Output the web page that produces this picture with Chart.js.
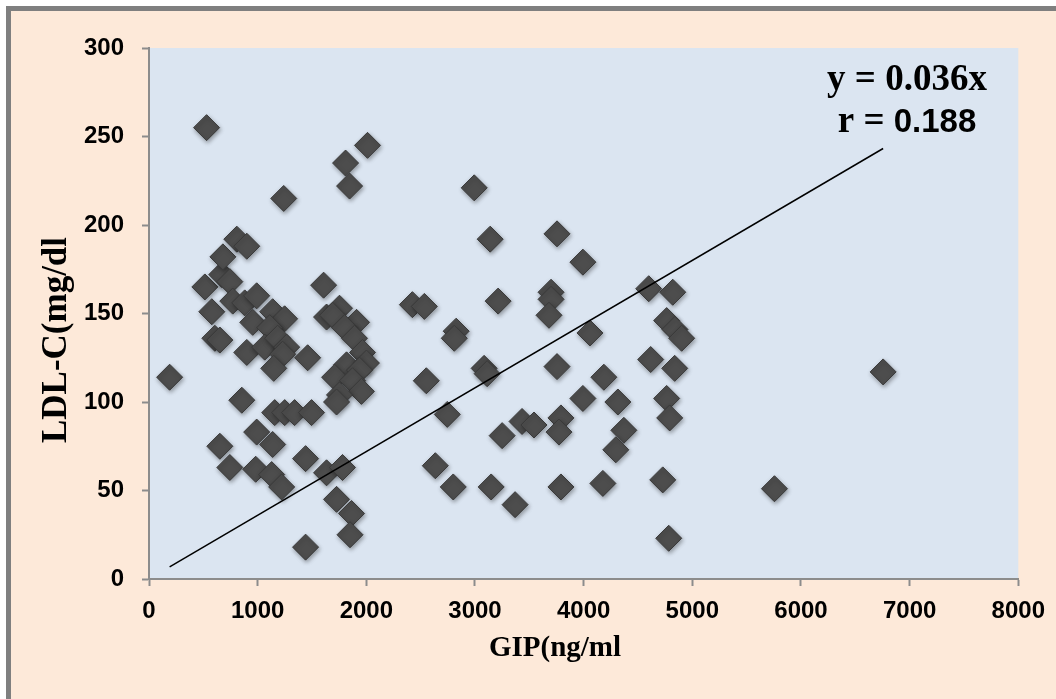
<!DOCTYPE html>
<html>
<head>
<meta charset="utf-8">
<script src="https://cdn.jsdelivr.net/npm/chart.js@4/dist/chart.umd.min.js"></script>
<style>
  html, body { margin: 0; padding: 0; background: #ffffff; }
  #frame {
    position: absolute; left: 6px; top: 6px; right: 0; bottom: 0;
    border-left: 5px solid #7f7f7f; border-top: 5px solid #7f7f7f;
    background: #fde9d9;
  }
  #wrap { position: absolute; left: 0; top: 0; width: 1056px; height: 699px; }
</style>
</head>
<body>
<div id="frame"></div>
<div id="wrap"><canvas id="ldlChart" width="1056" height="699"></canvas></div>
<script>
// GIP (ng/ml) on x, LDL-C (mg/dl) on y
const gipValues = [
  190, 530, 514, 578, 606, 652, 670, 680, 744, 808, 900, 771, 881, 991, 955, 900, 854, 991, 652, 744, 982,
  1138, 1248, 1111, 1065, 1184, 1267, 1230, 1148, 1460, 1240,
  1157, 1249, 1340, 1496, 1138, 1129, 1221, 1441, 1441,
  1607, 1634, 1753, 1690, 1910, 1800, 1891, 1965, 1818, 2001, 1937, 1708, 1873, 1955, 1753, 1726,
  1634, 1781, 1726, 1864, 1850,
  1809, 1846, 2011,
  2424, 2534, 2552, 2993, 3140, 3213, 2827, 2809, 2745, 2635, 2800,
  3084, 3112, 3149, 3369, 3250, 3433, 3543,
  3755, 3993, 3700, 3700, 3681, 3755, 3791, 3773, 3791, 4058, 3993, 4186, 4177, 4315, 4370, 4296,
  4599, 4820, 4764, 4840, 4902, 4617, 4838, 4764, 4792, 4728, 4783,
  5756, 6756
];
const ldlValues = [
  114, 255, 165, 151, 136, 135, 172, 182, 168, 192, 188, 157, 156, 160, 145, 128, 101, 83, 75, 63, 62,
  151, 147, 142, 131, 136, 131, 127, 119, 125, 215,
  94, 94, 94, 94, 76, 59, 52, 68, 18,
  166, 148, 153, 149, 145, 142, 136, 128, 121, 122, 118, 114, 112, 106, 104, 100,
  60, 63, 45, 37, 25,
  235, 222, 245,
  155, 154, 112, 221, 192, 157, 140, 136, 93, 64, 52,
  119, 116, 52, 42, 81, 89, 87,
  195, 179, 162, 158, 149, 120, 91, 83, 52, 139, 102, 114, 54, 100, 84, 73,
  164, 162, 146, 141, 136, 124, 119, 102, 91, 56, 23,
  51, 117
];
const xTicks = [0, 1000, 2000, 3000, 4000, 5000, 6000, 7000, 8000];
const yTicks = [0, 50, 100, 150, 200, 250, 300];
const slope = 0.036;
const corr = 0.188;

const points = gipValues.map((g, i) => ({ x: g, y: ldlValues[i] }));
const xMin = Math.min(...gipValues);
const xMax = Math.max(...gipValues);
const trend = [{ x: xMin, y: slope * xMin }, { x: xMax, y: slope * xMax }];

const axisGray = '#8c8c8c';
const tickFont = { family: 'Liberation Sans', size: 24, weight: 'bold' };

// plot area fill + titles + equation text
const decor = {
  id: 'decor',
  beforeDraw(chart) {
    const { ctx, chartArea: a } = chart;
    ctx.save();
    ctx.fillStyle = '#dbe5f1';
    ctx.fillRect(a.left, a.top, a.right - a.left, a.bottom - a.top);
    ctx.restore();
  },
  afterDraw(chart) {
    const { ctx } = chart;
    ctx.save();
    ctx.fillStyle = '#000';
    ctx.textAlign = 'center';
    ctx.textBaseline = 'alphabetic';
    ctx.font = 'bold 29px "Liberation Serif"';
    ctx.fillText('GIP(ng/ml', 555, 656);
    ctx.translate(66, 340);
    ctx.rotate(-Math.PI / 2);
    ctx.font = 'bold 35px "Liberation Serif"';
    ctx.fillText('LDL-C(mg/dl', 0, 0);
    ctx.restore();

    ctx.save();
    ctx.fillStyle = '#000';
    ctx.textBaseline = 'alphabetic';
    ctx.textAlign = 'center';
    ctx.font = 'bold 37px "Liberation Serif"';
    ctx.fillText('y = ' + slope + 'x', 907, 90);
    ctx.textAlign = 'left';
    const a = 'r = ';
    const serif = 'bold 37px "Liberation Serif"';
    const sans = 'bold 33px "Liberation Sans"';
    ctx.font = serif;
    const wa = ctx.measureText(a).width;
    ctx.font = sans;
    const wb = ctx.measureText(String(corr)).width;
    const x0 = 907 - (wa + wb) / 2;
    ctx.font = serif;
    ctx.fillText(a, x0, 132);
    ctx.font = sans;
    ctx.fillText(String(corr), x0 + wa, 132);
    ctx.restore();
  }
};

const shadow = {
  id: 'shadow',
  beforeDatasetDraw(chart, args) {
    if (args.index === 1) {
      const ctx = chart.ctx;
      ctx.save();
      ctx.shadowColor = 'rgba(0,0,0,0.35)';
      ctx.shadowBlur = 4;
      ctx.shadowOffsetX = 1;
      ctx.shadowOffsetY = 2;
    }
  },
  afterDatasetDraw(chart, args) {
    if (args.index === 1) chart.ctx.restore();
  }
};

new Chart(document.getElementById('ldlChart'), {
  type: 'scatter',
  data: {
    datasets: [
      {
        type: 'line',
        data: trend,
        borderColor: '#000000',
        borderWidth: 1.5,
        pointRadius: 0,
        fill: false,
        order: 0
      },
      {
        data: points,
        pointStyle: 'rectRot',
        pointRadius: 13,
        backgroundColor: '#4d4d4d',
        borderColor: '#3a3a3a',
        borderWidth: 1,
        order: 1
      }
    ]
  },
  options: {
    responsive: false,
    animation: false,
    events: [],
    layout: { padding: { left: 0, top: 48, right: 36, bottom: 0 } },
    plugins: { legend: { display: false }, tooltip: { enabled: false } },
    scales: {
      x: {
        type: 'linear',
        min: 0, max: 8000,
        afterBuildTicks(scale) { scale.ticks = xTicks.map(v => ({ value: v })); },
        afterFit(scale) { scale.height = 120; },
        border: { color: axisGray, width: 2 },
        grid: { drawOnChartArea: false, drawTicks: true, tickLength: 7, tickColor: axisGray, tickWidth: 2 },
        ticks: { color: '#000', font: tickFont, padding: 11, maxRotation: 0, callback: v => String(v) }
      },
      y: {
        type: 'linear',
        min: 0, max: 300,
        afterBuildTicks(scale) { scale.ticks = yTicks.map(v => ({ value: v })); },
        afterFit(scale) { scale.width = 149; },
        border: { color: axisGray, width: 2 },
        grid: { drawOnChartArea: false, drawTicks: true, tickLength: 7, tickColor: axisGray, tickWidth: 2 },
        ticks: { color: '#000', font: tickFont, padding: 18, callback: v => String(v) }
      }
    }
  },
  plugins: [decor, shadow]
});
</script>
</body>
</html>
